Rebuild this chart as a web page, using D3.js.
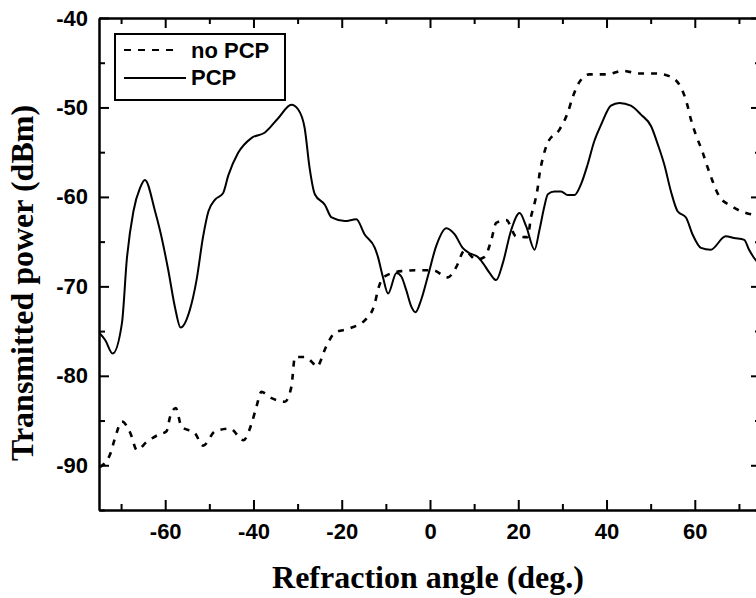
<!DOCTYPE html>
<html><head><meta charset="utf-8">
<script src="https://cdn.jsdelivr.net/npm/d3@7"></script>
<style>body{margin:0;background:#fff;overflow:hidden}svg{display:block}</style>
</head><body>
<script>
// Data
const pcpAngle = [-75.1,-73.6,-71.9,-69.8,-68.7,-67.2,-65.7,-64.6,-62.3,-61.2,-59.3,-57.8,-56.5,-54.4,-52.9,-51.4,-50.2,-48.7,-46.9,-45.7,-43.5,-40.4,-37.4,-34.4,-31.4,-29.9,-28.4,-27.3,-26.1,-23.8,-22.3,-19.3,-16.7,-14.8,-12.5,-11.8,-10.7,-9.5,-7.6,-6.5,-5.4,-4.2,-3.3,-2.0,-0.5,1.4,3.7,5.6,7.4,9.0,10.8,12.0,13.5,15.0,16.5,18.4,20.3,21.8,23.7,24.8,25.9,26.7,28.2,29.7,31.2,32.7,34.2,35.7,37.2,38.8,41.0,42.9,45.5,47.8,50.1,51.6,53.1,54.6,56.1,58.0,59.5,61.4,63.6,67.0,68.9,71.2,72.3,73.4,75.0];
const pcpPower = [-75.1,-76.0,-77.5,-74.1,-67.0,-61.6,-59.0,-58.1,-61.6,-63.7,-68.2,-72.3,-74.6,-72.6,-69.3,-64.4,-61.6,-60.3,-59.6,-57.6,-55.1,-53.4,-52.8,-51.2,-49.7,-50.2,-52.3,-56.7,-59.7,-60.9,-62.3,-62.7,-62.5,-64.2,-65.7,-66.7,-68.9,-70.8,-68.5,-68.9,-70.4,-72.3,-72.9,-71.5,-68.9,-65.5,-63.5,-64.2,-65.7,-66.3,-66.7,-67.4,-68.5,-69.3,-67.4,-63.7,-61.8,-63.3,-65.9,-63.7,-61.1,-59.7,-59.4,-59.4,-59.8,-59.8,-58.6,-56.4,-53.8,-51.9,-49.8,-49.5,-49.8,-50.8,-52.1,-54.1,-56.4,-59.4,-61.6,-62.3,-64.2,-65.7,-65.9,-64.4,-64.6,-64.8,-65.9,-66.8,-67.7];

const noPcpAngle = [-74.8,-72.5,-71.4,-69.8,-67.9,-66.4,-64.2,-61.6,-59.7,-58.9,-57.6,-56.3,-53.3,-51.4,-48.7,-45.3,-42.3,-40.4,-39.3,-38.2,-35.9,-32.9,-31.4,-30.6,-28.4,-26.1,-25.7,-23.5,-21.6,-18.2,-14.4,-12.5,-11.8,-10.3,-6.5,-3.1,0.7,4.0,6.0,7.8,10.5,12.4,13.9,15.0,17.3,19.5,22.1,22.9,23.7,24.4,24.8,25.5,26.7,29.3,31.2,32.3,33.8,36.1,40.2,43.6,47.4,50.8,54.2,56.9,58.3,59.1,60.2,61.7,62.9,64.0,65.5,68.2,71.6,73.4,75.0];
const noPcpPower = [-90.2,-88.8,-87.0,-85.1,-86.4,-88.3,-87.4,-86.6,-86.2,-84.6,-83.6,-85.7,-86.4,-87.8,-86.2,-85.9,-87.2,-85.3,-83.4,-81.8,-82.5,-82.9,-81.2,-77.9,-77.9,-78.8,-79.0,-76.7,-75.2,-74.7,-73.6,-71.9,-70.4,-68.9,-68.3,-68.2,-68.2,-69.0,-67.8,-66.0,-67.0,-66.7,-64.8,-62.9,-62.6,-64.4,-64.5,-62.2,-60.7,-59.0,-57.5,-55.8,-53.9,-52.5,-50.6,-48.9,-47.2,-46.3,-46.3,-45.9,-46.2,-46.2,-46.5,-47.8,-49.7,-51.3,-53.0,-54.9,-56.7,-58.2,-59.9,-61.0,-61.8,-62.0,-62.1];

const xMajorTicks = [-60,-40,-20,0,20,40,60];
const xMinorTicks = [-70,-50,-30,-10,10,30,50,70];
const yMajorTicks = [-40,-50,-60,-70,-80,-90];
const yMinorTicks = [-45,-55,-65,-75,-85,-95];
const seriesNames = ["no PCP","PCP"];
const xTitle = "Refraction angle (deg.)";
const yTitle = "Transmitted power (dBm)";

const W = 756, H = 598;
const L = 99, R = 761, T = 18, B = 510;
const svg = d3.select("body").append("svg").attr("width", W).attr("height", H);
const x = d3.scaleLinear().domain([-75, 75]).range([L, R]);
const y = d3.scaleLinear().domain([-95, -40]).range([B, T]);

svg.append("clipPath").attr("id","clip").append("rect")
  .attr("x", L).attr("y", T).attr("width", R - L).attr("height", B - T);

const lineGen = (xs, ys) => d3.line().curve(d3.curveMonotoneX)
  .x((d,i)=>x(xs[i])).y((d,i)=>y(ys[i]))(xs);

const g = svg.append("g").attr("clip-path","url(#clip)");
g.append("path").attr("d", lineGen(noPcpAngle, noPcpPower))
  .attr("fill","none").attr("stroke","#000").attr("stroke-width",2.6)
  .attr("stroke-dasharray","6,7");
g.append("path").attr("d", lineGen(pcpAngle, pcpPower))
  .attr("fill","none").attr("stroke","#000").attr("stroke-width",2);

const tickFont = "'Liberation Sans', Arial, sans-serif";
const fmt = d => String(d);
function axisStyle(sel){
  sel.select(".domain").attr("stroke","#000").attr("stroke-width",2);
  sel.selectAll(".tick line").attr("stroke","#000").attr("stroke-width",2);
  sel.selectAll("text").attr("fill","#000").style("font-family",tickFont)
     .style("font-weight","bold").style("font-size","22px");
}
// bottom
svg.append("g").attr("transform",`translate(0,${B})`)
  .call(d3.axisBottom(x).tickValues(xMajorTicks).tickFormat(fmt).tickSizeInner(-10).tickSizeOuter(0).tickPadding(13))
  .call(axisStyle);
svg.append("g").attr("transform",`translate(0,${B})`)
  .call(d3.axisBottom(x).tickValues(xMinorTicks).tickFormat("").tickSizeInner(-6).tickSizeOuter(0))
  .call(axisStyle);
// top
svg.append("g").attr("transform",`translate(0,${T})`)
  .call(d3.axisTop(x).tickValues(xMajorTicks).tickFormat("").tickSizeInner(-10).tickSizeOuter(0)).call(axisStyle);
svg.append("g").attr("transform",`translate(0,${T})`)
  .call(d3.axisTop(x).tickValues(xMinorTicks).tickFormat("").tickSizeInner(-6).tickSizeOuter(0)).call(axisStyle);
// left
svg.append("g").attr("transform",`translate(${L},0)`)
  .call(d3.axisLeft(y).tickValues(yMajorTicks).tickFormat(fmt).tickSizeInner(-10).tickSizeOuter(0).tickPadding(11))
  .call(axisStyle);
svg.append("g").attr("transform",`translate(${L},0)`)
  .call(d3.axisLeft(y).tickValues(yMinorTicks).tickFormat("").tickSizeInner(-6).tickSizeOuter(0)).call(axisStyle);
// right
svg.append("g").attr("transform",`translate(${R},0)`)
  .call(d3.axisRight(y).tickValues(yMajorTicks).tickFormat("").tickSizeInner(-10).tickSizeOuter(0)).call(axisStyle);
svg.append("g").attr("transform",`translate(${R},0)`)
  .call(d3.axisRight(y).tickValues(yMinorTicks).tickFormat("").tickSizeInner(-6).tickSizeOuter(0)).call(axisStyle);

// titles
const titleFont = "'Liberation Serif', 'Times New Roman', serif";
svg.append("text").attr("x", 428).attr("y", 588).attr("text-anchor","middle")
  .style("font-family",titleFont).style("font-weight","bold").style("font-size","32px").text(xTitle);
svg.append("text").attr("transform",`translate(33,283) rotate(-90)`).attr("text-anchor","middle")
  .style("font-family",titleFont).style("font-weight","bold").style("font-size","32px").text(yTitle);

// legend
const lg = svg.append("g");
lg.append("rect").attr("x",115).attr("y",34).attr("width",170).attr("height",66)
  .attr("fill","#fff").attr("stroke","#000").attr("stroke-width",2);
lg.append("line").attr("x1",124).attr("x2",180).attr("y1",50).attr("y2",50)
  .attr("stroke","#000").attr("stroke-width",2).attr("stroke-dasharray","7,7");
lg.append("line").attr("x1",124).attr("x2",186).attr("y1",78).attr("y2",78)
  .attr("stroke","#000").attr("stroke-width",2);
lg.selectAll("text.lt").data(seriesNames).enter().append("text")
  .attr("x",191).attr("y",(d,i)=> i===0 ? 57.5 : 85)
  .style("font-family",tickFont).style("font-weight","bold").style("font-size","22px").text(d=>d);
</script>
</body></html>
